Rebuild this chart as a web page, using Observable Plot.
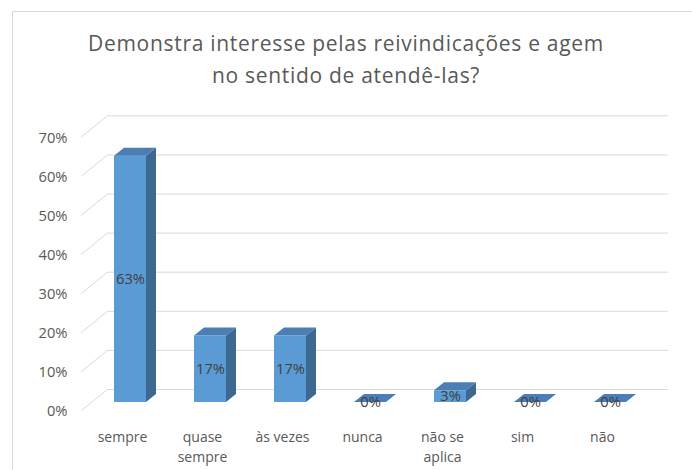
<!DOCTYPE html>
<html>
<head>
<meta charset="utf-8">
<script src="https://cdn.jsdelivr.net/npm/d3@7"></script>
<script src="https://cdn.jsdelivr.net/npm/@observablehq/plot@0.6"></script>
<style>
  html, body { margin: 0; padding: 0; background: #fff; }
  #wrap { position: relative; width: 692px; height: 470px; overflow: hidden; font-family: "Open Sans", sans-serif; }
  #border { position: absolute; left: 12px; top: 11px; width: 720px; height: 500px; border: 1px solid #D9D9D9; box-sizing: border-box; }
  #title { position: absolute; left: 0; top: 27.3px; width: 692px; text-align: center; font-size: 21px; letter-spacing: 0.7px; line-height: 32px; color: #595959; }
  #chart { position: absolute; left: 0; top: 100px; }
</style>
</head>
<body>
<div id="wrap">
  <div id="border"></div>
  <div id="title">Demonstra interesse pelas reivindicações e agem<br>no sentido de atendê-las?</div>
  <div id="chart"></div>
</div>
<script>
const categories = ["sempre", "quase sempre", "às vezes", "nunca", "não se aplica", "sim", "não"];
const tickLabels = ["sempre", "quase\nsempre", "às vezes", "nunca", "não se\naplica", "sim", "não"];
const values = [0.63, 0.17, 0.17, 0.00, 0.03, 0.00, 0.00];
const yTicks = [0, 0.1, 0.2, 0.3, 0.4, 0.5, 0.6, 0.7];

const data = categories.map((c, i) => ({cat: c, value: values[i]}));
const pct = v => Math.round(v * 100) + "%";

const DEPTH_X = 10, DEPTH_Y = -8;   // bar depth
const BACK_X = 34, BACK_Y = -13;     // back wall offset from bar front plane
const FRONT_X = 7, FRONT_Y = 9;      // front floor edge offset

const chart = Plot.plot({
  width: 692,
  height: 370,
  marginLeft: 74,
  marginRight: 26,
  marginTop: 28.3,
  marginBottom: 68,
  style: {fontFamily: "Open Sans, sans-serif", fontSize: "14px", color: "#595959", background: "transparent", overflow: "visible"},
  x: {type: "band", domain: categories, range: [74, 666], paddingInner: 0.6, paddingOuter: 0.5, align: 0.5, label: null},
  y: {domain: [0, 0.7], label: null},
  marks: [
    // back-wall gridlines
    Plot.ruleY(yTicks, {stroke: "#D9D9D9", strokeWidth: 1, dy: BACK_Y, insetLeft: BACK_X, insetRight: -2}),
    // side-wall diagonal gridlines
    Plot.ruleY(yTicks, {
      stroke: "#D9D9D9",
      render(I, scales, vals, dims) {
        const g = d3.create("svg:g");
        for (const i of I) {
          const y = vals.y[i];
          g.append("line")
            .attr("x1", dims.marginLeft + FRONT_X).attr("y1", y + FRONT_Y)
            .attr("x2", dims.marginLeft + BACK_X).attr("y2", y + BACK_Y)
            .attr("stroke", "#D9D9D9").attr("stroke-width", 1);
        }
        return g.node();
      }
    }),
    // 3D bars
    Plot.barY(data, {
      x: "cat", y: "value", fill: "#5B9BD5",
      render(I, scales, vals, dims, ctx, next) {
        const g = next(I, scales, vals, dims, ctx);
        const bwv = scales.x.bandwidth;
        const bw = typeof bwv === "function" ? bwv() : bwv;
        const sel = d3.select(g);
        for (const i of I) {
          const x0 = vals.x[i];
          const yb = Math.max(vals.y1[i], vals.y2[i]);
          const yt = Math.min(vals.y1[i], vals.y2[i]);
          const x1 = x0 + bw;
          if (yb - yt > 0.5) {
            sel.append("polygon")
              .attr("points", [[x1, yb], [x1, yt], [x1 + DEPTH_X, yt + DEPTH_Y], [x1 + DEPTH_X, yb + DEPTH_Y]].map(p => p.join(",")).join(" "))
              .attr("fill", "#3C6891");
          }
          sel.append("polygon")
            .attr("points", [[x0, yt], [x1, yt], [x1 + DEPTH_X, yt + DEPTH_Y], [x0 + DEPTH_X, yt + DEPTH_Y]].map(p => p.join(",")).join(" "))
            .attr("fill", "#4A7EB5");
        }
        return g;
      }
    }),
    // data labels
    Plot.text(data, {x: "cat", y: d => d.value / 2, text: d => pct(d.value), fill: "#404040", fontSize: 14.7}),
    Plot.axisY({ticks: yTicks, tickFormat: pct, tickSize: 0, tickPadding: 7, dy: FRONT_Y, fontSize: 14.7, label: null}),
    Plot.axisX({tickSize: 0, tickPadding: 25, dx: -8, tickFormat: d => tickLabels[categories.indexOf(d)], lineHeight: 1.43, fontSize: 14, label: null})
  ]
});
document.getElementById("chart").appendChild(chart);
</script>
</body>
</html>
